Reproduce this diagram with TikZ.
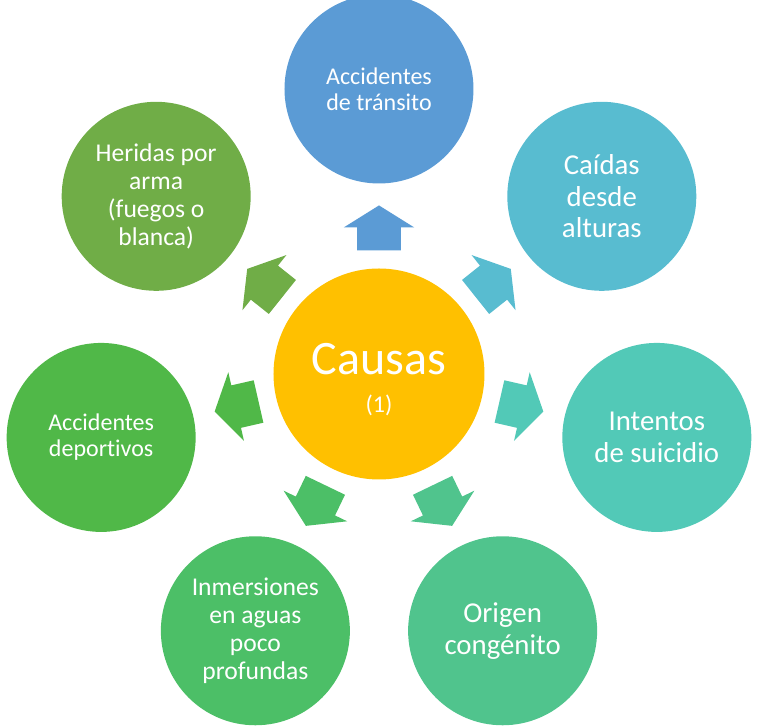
\documentclass[tikz,border=0pt]{standalone}
\usepackage{fontspec}
\setmainfont{Carlito}[Ligatures=NoCommon]
\usetikzlibrary{shapes.arrows}

\definecolor{hubcolor}{HTML}{FFC000}
\definecolor{transitocolor}{HTML}{5B9BD5}
\definecolor{caidascolor}{HTML}{58BCD0}
\definecolor{suicidiocolor}{HTML}{52C9B7}
\definecolor{congenitocolor}{HTML}{50C48D}
\definecolor{inmersioncolor}{HTML}{4CBF67}
\definecolor{deportecolor}{HTML}{50B848}
\definecolor{armacolor}{HTML}{70AD47}

\begin{document}
\begin{tikzpicture}[x=0.75pt,y=0.75pt,
                    cause node/.style={circle,minimum size=141.75pt,inner sep=0pt,align=center,text=white},
                    hub node/.style={circle,minimum size=158.25pt,inner sep=0pt,align=center,text=white,
                                     fill=hubcolor,font=\fontsize{36}{29}\selectfont},
                    block arrow/.style={single arrow,draw=none,anchor=tail,minimum height=33.75pt,
                                        minimum width=1pt,inner xsep=0pt,inner ysep=16.125pt,
                                        single arrow head extend=10.125pt,single arrow tip angle=116}]

       \useasboundingbox (-379,-353) rectangle (390,374);

       \node[hub node] (hub) at (0,0) {\rule{0pt}{32pt}Causas\\{\fontsize{18}{20}\selectfont (1)}};

       \node[cause node,fill=transitocolor,font=\fontsize{18}{19.8}\selectfont]
            (transito) at (90:285) {Accidentes\\de tránsito};
       \node[cause node,fill=caidascolor,font=\fontsize{21.6}{23.8}\selectfont]
            (caidas) at (38.57:285) {Caídas\\desde\\alturas};
       \node[cause node,fill=suicidiocolor,font=\fontsize{21.6}{23.8}\selectfont]
            (suicidio) at (-12.86:285) {Intentos\\de suicidio};
       \node[cause node,fill=congenitocolor,font=\fontsize{21.6}{23.8}\selectfont]
            (congenito) at (-64.29:285) {Origen\\congénito};
       \node[cause node,fill=inmersioncolor,font=\fontsize{19.2}{21.2}\selectfont]
            (inmersion) at (-115.71:285) {Inmersiones\\en aguas\\poco\\profundas};
       \node[cause node,fill=deportecolor,font=\fontsize{18}{19.5}\selectfont]
            (deporte) at (-167.14:285) {Accidentes\\deportivos};
       \node[cause node,fill=armacolor,font=\fontsize{19.2}{21.2}\selectfont]
            (arma) at (141.43:285) {Heridas por\\arma\\(fuegos o\\blanca)};

       % arrows from the hub to each cause
       \node[block arrow,fill=transitocolor,rotate=90] (a1) at (90:123.3) {};
       \node[block arrow,fill=caidascolor,rotate=38.57] (a2) at (38.57:123.3) {};
       \node[block arrow,fill=suicidiocolor,rotate=-12.86] (a3) at (-12.86:123.3) {};
       \node[block arrow,fill=congenitocolor,rotate=-64.29] (a4) at (-64.29:123.3) {};
       \node[block arrow,fill=inmersioncolor,rotate=-115.71] (a5) at (-115.71:123.3) {};
       \node[block arrow,fill=deportecolor,rotate=-167.14] (a6) at (-167.14:123.3) {};
       \node[block arrow,fill=armacolor,rotate=141.43] (a7) at (141.43:123.3) {};
\end{tikzpicture}
\end{document}
